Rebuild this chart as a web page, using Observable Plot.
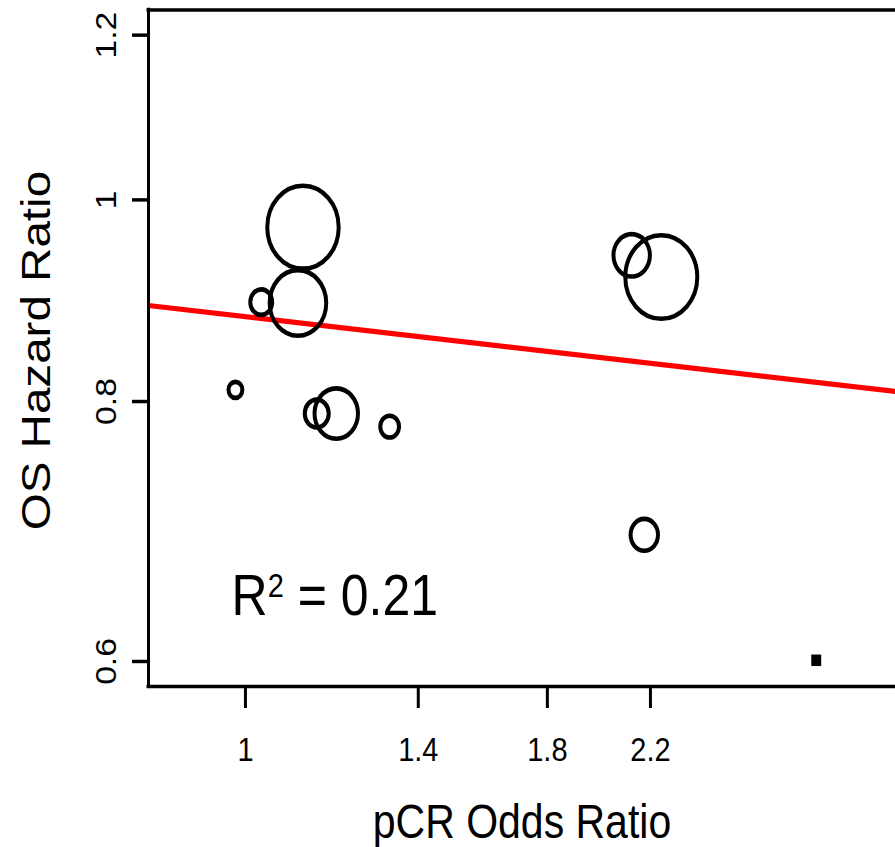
<!DOCTYPE html>
<html>
<head>
<meta charset="utf-8">
<script src="https://cdn.jsdelivr.net/npm/d3@7"></script>
<script src="https://cdn.jsdelivr.net/npm/@observablehq/plot@0.6"></script>
<style>
  html { overflow: hidden; }
  body { margin: 0; padding: 0; background: #fff; }
  #chart { width: 895px; height: 847px; }
  #chart svg { display: block; transform-origin: 0 0; overflow: visible; }
</style>
</head>
<body>
<div id="chart"></div>
<script>
// ---- data ----
const pcrOddsRatio  = [1.1185, 1.1076, 1.0312, 0.9807, 1.1489, 1.1934, 1.3241, 2.1211, 2.2469, 2.1738];
const osHazardRatio = [0.9702, 0.8922, 0.8930, 0.8104, 0.7894, 0.7894, 0.7781, 0.9405, 0.9182, 0.6903];
const studyWeight   = [319, 200, 30, 12, 36, 118, 22, 83, 324, 47];
const extraOR = [3.038];
const extraHR = [0.6008];
const fitIntercept = -0.1292;   // log(HR) at log(OR) = 0
const fitSlope = -0.0654;       // change in log(HR) per unit log(OR)
const rSquaredBase = "R";
const rSquaredSup = "2";
const rSquaredRest = " = 0.21";
const xTicks = [1, 1.4, 1.8, 2.2];
const xTickLabels = ["1", "1.4", "1.8", "2.2"];
const yTicks = [0.6, 0.8, 1, 1.2];
const yTickLabels = ["0.6", "0.8", "1", "1.2"];
const xTitle = "pCR Odds Ratio";
const yTitle = "OS Hazard Ratio";
const xLimits = [0.828, 3.545];
const yLimits = [0.6, 1.2];

// ---- build tables ----
const studies = pcrOddsRatio.map((or, i) => ({or, hr: osHazardRatio[i], w: studyWeight[i]}));
const extra = extraOR.map((or, i) => ({or, hr: extraHR[i]}));
const yExt = 0.04 * Math.log(yLimits[1] / yLimits[0]);
const yDomain = [yLimits[0] * Math.exp(-yExt), yLimits[1] * Math.exp(yExt)];
const xDomain = xLimits;
const fit = xDomain.map(or => ({or, hr: Math.exp(fitIntercept + fitSlope * Math.log(or))}));
const rSquaredLabel = rSquaredBase + rSquaredSup + rSquaredRest;

const W = 895, H = 730, stretch = 847 / 730;
const mTop = 8.2, mBottom = H - 591.2, mLeft = 148, mRight = 0;

const chart = Plot.plot({
  width: W,
  height: H,
  marginTop: mTop,
  marginBottom: mBottom,
  marginLeft: mLeft,
  marginRight: mRight,
  style: {fontFamily: "'Liberation Sans', Arial, sans-serif", background: "white", color: "black"},
  x: {type: "log", domain: xDomain},
  y: {type: "log", domain: yDomain},
  r: {type: "sqrt", domain: [0, 324], range: [0, 36]},
  marks: [
    Plot.line(fit, {x: "or", y: "hr", stroke: "#ff0000", strokeWidth: 4.5, clip: true}),
    Plot.dot(studies, {x: "or", y: "hr", r: "w", stroke: "black", strokeWidth: 4, fill: "none"}),
    Plot.dot(extra, {x: "or", y: "hr", symbol: "square", r: 5.6, fill: "black", stroke: "none"}),
    Plot.text([rSquaredLabel], {x: 1.19, y: 0.632, textAnchor: "middle", lineAnchor: "bottom", fontSize: 50}),
    Plot.axisX({ticks: xTicks, tickSize: 19, tickPadding: 25, strokeWidth: 3, fontSize: 29,
      tickFormat: d => xTickLabels[xTicks.indexOf(d)], label: null}),
    Plot.axisY({ticks: yTicks, tickSize: 16, tickPadding: 17, tickRotate: -90, strokeWidth: 3, fontSize: 29,
      tickFormat: d => yTickLabels[yTicks.indexOf(d)], label: null}),
    Plot.ruleY([yDomain[1], yDomain[0]], {strokeWidth: 3, strokeLinecap: "square"}),
    Plot.ruleX([xDomain[0]], {strokeWidth: 3, strokeLinecap: "square"}),
    Plot.text([xTitle], {frameAnchor: "bottom", lineAnchor: "bottom", textAnchor: "middle", dy: 130.5, fontSize: 41}),
    Plot.text([yTitle], {frameAnchor: "left", rotate: -90, lineAnchor: "bottom", textAnchor: "middle", dx: -99, dy: 2, fontSize: 41})
  ]
});

// render the superscript of R² like R's plotmath
const NS = "http://www.w3.org/2000/svg";
const rt = [...chart.querySelectorAll("text")].find(e => e.textContent === rSquaredLabel);
if (rt) {
  rt.textContent = "";
  const parts = [
    [rSquaredBase, null, null],
    [rSquaredSup, 29, -15],
    [rSquaredRest, 50, 15]
  ];
  for (const [str, size, dy] of parts) {
    const ts = document.createElementNS(NS, "tspan");
    if (size) ts.style.fontSize = size + "px";
    if (dy) ts.setAttribute("dy", dy);
    ts.textContent = str;
    rt.appendChild(ts);
  }
}

chart.style.transform = `scaleY(${stretch})`;
document.getElementById("chart").appendChild(chart);
</script>
</body>
</html>
